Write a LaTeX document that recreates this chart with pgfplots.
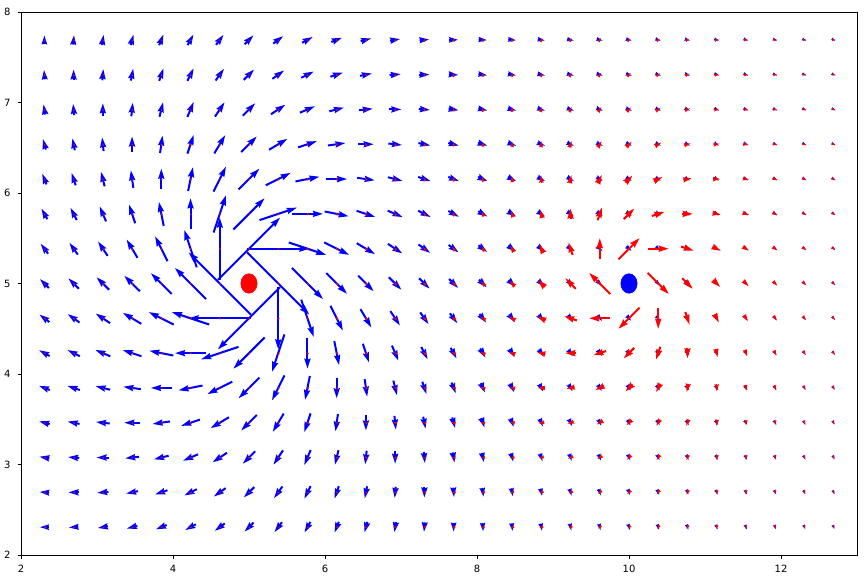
\documentclass[border=0pt]{standalone}
\usepackage{pgfplots}
\pgfplotsset{compat=1.18}
\usepackage{pgfplotstable}
\usetikzlibrary{arrows.meta}
\usepackage{fontspec}
\setmainfont{DejaVu Sans}

% a, b: grid offsets (step 15/39) from the source; U, V: arrow components (screen units)
\pgfplotstableread{
a b U V
-20 7 -0.029 0.060
-19 7 -0.029 0.063
-18 7 -0.029 0.067
-17 7 -0.030 0.071
-16 7 -0.030 0.075
-15 7 -0.029 0.080
-14 7 -0.029 0.086
-13 7 -0.028 0.092
-12 7 -0.026 0.098
-11 7 -0.024 0.106
-10 7 -0.020 0.114
-9 7 -0.015 0.123
-8 7 -0.009 0.133
-7 7 0 0.143
-6 7 0.012 0.153
-5 7 0.027 0.162
-4 7 0.046 0.169
-3 7 0.069 0.172
-2 7 0.094 0.170
-1 7 0.120 0.160
0 7 0.143 0.143
1 7 0.160 0.120
2 7 0.170 0.094
3 7 0.172 0.069
4 7 0.169 0.046
5 7 0.162 0.027
6 7 0.153 0.012
7 7 0.143 0
8 7 0.133 -0.009
9 7 0.123 -0.015
10 7 0.114 -0.020
11 7 0.106 -0.024
12 7 0.098 -0.026
13 7 0.092 -0.028
14 7 0.086 -0.029
15 7 0.080 -0.029
16 7 0.075 -0.030
17 7 0.071 -0.030
18 7 0.067 -0.029
19 7 0.063 -0.029
20 7 0.060 -0.029
-20 6 -0.032 0.060
-19 6 -0.033 0.063
-18 6 -0.033 0.067
-17 6 -0.034 0.071
-16 6 -0.034 0.075
-15 6 -0.034 0.080
-14 6 -0.034 0.086
-13 6 -0.034 0.093
-12 6 -0.033 0.100
-11 6 -0.032 0.108
-10 6 -0.029 0.118
-9 6 -0.026 0.128
-8 6 -0.020 0.140
-7 6 -0.012 0.153
-6 6 0 0.167
-5 6 0.016 0.180
-4 6 0.038 0.192
-3 6 0.067 0.200
-2 6 0.100 0.200
-1 6 0.135 0.189
0 6 0.167 0.167
1 6 0.189 0.135
2 6 0.200 0.100
3 6 0.200 0.067
4 6 0.192 0.038
5 6 0.180 0.016
6 6 0.167 0
7 6 0.153 -0.012
8 6 0.140 -0.020
9 6 0.128 -0.026
10 6 0.118 -0.029
11 6 0.108 -0.032
12 6 0.100 -0.033
13 6 0.093 -0.034
14 6 0.086 -0.034
15 6 0.080 -0.034
16 6 0.075 -0.034
17 6 0.071 -0.034
18 6 0.067 -0.033
19 6 0.063 -0.033
20 6 0.060 -0.032
-20 5 -0.035 0.059
-19 5 -0.036 0.062
-18 5 -0.037 0.066
-17 5 -0.038 0.070
-16 5 -0.039 0.075
-15 5 -0.040 0.080
-14 5 -0.041 0.086
-13 5 -0.041 0.093
-12 5 -0.041 0.101
-11 5 -0.041 0.110
-10 5 -0.040 0.120
-9 5 -0.038 0.132
-8 5 -0.034 0.146
-7 5 -0.027 0.162
-6 5 -0.016 0.180
-5 5 0 0.200
-4 5 0.024 0.220
-3 5 0.059 0.235
-2 5 0.103 0.241
-1 5 0.154 0.231
0 5 0.200 0.200
1 5 0.231 0.154
2 5 0.241 0.103
3 5 0.235 0.059
4 5 0.220 0.024
5 5 0.200 0
6 5 0.180 -0.016
7 5 0.162 -0.027
8 5 0.146 -0.034
9 5 0.132 -0.038
10 5 0.120 -0.040
11 5 0.110 -0.041
12 5 0.101 -0.041
13 5 0.093 -0.041
14 5 0.086 -0.041
15 5 0.080 -0.040
16 5 0.075 -0.039
17 5 0.070 -0.038
18 5 0.066 -0.037
19 5 0.062 -0.036
20 5 0.059 -0.035
-20 4 -0.038 0.058
-19 4 -0.040 0.061
-18 4 -0.041 0.065
-17 4 -0.043 0.069
-16 4 -0.044 0.074
-15 4 -0.046 0.079
-14 4 -0.047 0.085
-13 4 -0.049 0.092
-12 4 -0.050 0.100
-11 4 -0.051 0.109
-10 4 -0.052 0.121
-9 4 -0.052 0.134
-8 4 -0.050 0.150
-7 4 -0.046 0.169
-6 4 -0.038 0.192
-5 4 -0.024 0.220
-4 4 0 0.250
-3 4 0.040 0.280
-2 4 0.100 0.300
-1 4 0.176 0.294
0 4 0.250 0.250
1 4 0.294 0.176
2 4 0.300 0.100
3 4 0.280 0.040
4 4 0.250 0
5 4 0.220 -0.024
6 4 0.192 -0.038
7 4 0.169 -0.046
8 4 0.150 -0.050
9 4 0.134 -0.052
10 4 0.121 -0.052
11 4 0.109 -0.051
12 4 0.100 -0.050
13 4 0.092 -0.049
14 4 0.085 -0.047
15 4 0.079 -0.046
16 4 0.074 -0.044
17 4 0.069 -0.043
18 4 0.065 -0.041
19 4 0.061 -0.040
20 4 0.058 -0.038
-20 3 -0.042 0.056
-19 3 -0.043 0.059
-18 3 -0.045 0.063
-17 3 -0.047 0.067
-16 3 -0.049 0.072
-15 3 -0.051 0.077
-14 3 -0.054 0.083
-13 3 -0.056 0.090
-12 3 -0.059 0.098
-11 3 -0.062 0.108
-10 3 -0.064 0.119
-9 3 -0.067 0.133
-8 3 -0.068 0.151
-7 3 -0.069 0.172
-6 3 -0.067 0.200
-5 3 -0.059 0.235
-4 3 -0.040 0.280
-3 3 0 0.333
-2 3 0.077 0.385
-1 3 0.200 0.400
0 3 0.333 0.333
1 3 0.400 0.200
2 3 0.385 0.077
3 3 0.333 0
4 3 0.280 -0.040
5 3 0.235 -0.059
6 3 0.200 -0.067
7 3 0.172 -0.069
8 3 0.151 -0.068
9 3 0.133 -0.067
10 3 0.119 -0.064
11 3 0.108 -0.062
12 3 0.098 -0.059
13 3 0.090 -0.056
14 3 0.083 -0.054
15 3 0.077 -0.051
16 3 0.072 -0.049
17 3 0.067 -0.047
18 3 0.063 -0.045
19 3 0.059 -0.043
20 3 0.056 -0.042
-20 2 -0.045 0.054
-19 2 -0.047 0.058
-18 2 -0.049 0.061
-17 2 -0.051 0.065
-16 2 -0.054 0.069
-15 2 -0.057 0.074
-14 2 -0.060 0.080
-13 2 -0.064 0.087
-12 2 -0.068 0.095
-11 2 -0.072 0.104
-10 2 -0.077 0.115
-9 2 -0.082 0.129
-8 2 -0.088 0.147
-7 2 -0.094 0.170
-6 2 -0.100 0.200
-5 2 -0.103 0.241
-4 2 -0.100 0.300
-3 2 -0.077 0.385
-2 2 0 0.500
-1 2 0.200 0.600
0 2 0.500 0.500
1 2 0.600 0.200
2 2 0.500 0
3 2 0.385 -0.077
4 2 0.300 -0.100
5 2 0.241 -0.103
6 2 0.200 -0.100
7 2 0.170 -0.094
8 2 0.147 -0.088
9 2 0.129 -0.082
10 2 0.115 -0.077
11 2 0.104 -0.072
12 2 0.095 -0.068
13 2 0.087 -0.064
14 2 0.080 -0.060
15 2 0.074 -0.057
16 2 0.069 -0.054
17 2 0.065 -0.051
18 2 0.061 -0.049
19 2 0.058 -0.047
20 2 0.054 -0.045
-20 1 -0.047 0.052
-19 1 -0.050 0.055
-18 1 -0.052 0.058
-17 1 -0.055 0.062
-16 1 -0.058 0.066
-15 1 -0.062 0.071
-14 1 -0.066 0.076
-13 1 -0.071 0.082
-12 1 -0.076 0.090
-11 1 -0.082 0.098
-10 1 -0.089 0.109
-9 1 -0.098 0.122
-8 1 -0.108 0.138
-7 1 -0.120 0.160
-6 1 -0.135 0.189
-5 1 -0.154 0.231
-4 1 -0.176 0.294
-3 1 -0.200 0.400
-2 1 -0.200 0.600
-1 1 0 1
0 1 1 1
1 1 1 0
2 1 0.600 -0.200
3 1 0.400 -0.200
4 1 0.294 -0.176
5 1 0.231 -0.154
6 1 0.189 -0.135
7 1 0.160 -0.120
8 1 0.138 -0.108
9 1 0.122 -0.098
10 1 0.109 -0.089
11 1 0.098 -0.082
12 1 0.090 -0.076
13 1 0.082 -0.071
14 1 0.076 -0.066
15 1 0.071 -0.062
16 1 0.066 -0.058
17 1 0.062 -0.055
18 1 0.058 -0.052
19 1 0.055 -0.050
20 1 0.052 -0.047
-20 0 -0.050 0.050
-19 0 -0.053 0.053
-18 0 -0.056 0.056
-17 0 -0.059 0.059
-16 0 -0.062 0.062
-15 0 -0.067 0.067
-14 0 -0.071 0.071
-13 0 -0.077 0.077
-12 0 -0.083 0.083
-11 0 -0.091 0.091
-10 0 -0.100 0.100
-9 0 -0.111 0.111
-8 0 -0.125 0.125
-7 0 -0.143 0.143
-6 0 -0.167 0.167
-5 0 -0.200 0.200
-4 0 -0.250 0.250
-3 0 -0.333 0.333
-2 0 -0.500 0.500
-1 0 -1 1
1 0 1 -1
2 0 0.500 -0.500
3 0 0.333 -0.333
4 0 0.250 -0.250
5 0 0.200 -0.200
6 0 0.167 -0.167
7 0 0.143 -0.143
8 0 0.125 -0.125
9 0 0.111 -0.111
10 0 0.100 -0.100
11 0 0.091 -0.091
12 0 0.083 -0.083
13 0 0.077 -0.077
14 0 0.071 -0.071
15 0 0.067 -0.067
16 0 0.062 -0.062
17 0 0.059 -0.059
18 0 0.056 -0.056
19 0 0.053 -0.053
20 0 0.050 -0.050
-20 -1 -0.052 0.047
-19 -1 -0.055 0.050
-18 -1 -0.058 0.052
-17 -1 -0.062 0.055
-16 -1 -0.066 0.058
-15 -1 -0.071 0.062
-14 -1 -0.076 0.066
-13 -1 -0.082 0.071
-12 -1 -0.090 0.076
-11 -1 -0.098 0.082
-10 -1 -0.109 0.089
-9 -1 -0.122 0.098
-8 -1 -0.138 0.108
-7 -1 -0.160 0.120
-6 -1 -0.189 0.135
-5 -1 -0.231 0.154
-4 -1 -0.294 0.176
-3 -1 -0.400 0.200
-2 -1 -0.600 0.200
-1 -1 -1 0
0 -1 -1 -1
1 -1 0 -1
2 -1 0.200 -0.600
3 -1 0.200 -0.400
4 -1 0.176 -0.294
5 -1 0.154 -0.231
6 -1 0.135 -0.189
7 -1 0.120 -0.160
8 -1 0.108 -0.138
9 -1 0.098 -0.122
10 -1 0.089 -0.109
11 -1 0.082 -0.098
12 -1 0.076 -0.090
13 -1 0.071 -0.082
14 -1 0.066 -0.076
15 -1 0.062 -0.071
16 -1 0.058 -0.066
17 -1 0.055 -0.062
18 -1 0.052 -0.058
19 -1 0.050 -0.055
20 -1 0.047 -0.052
-20 -2 -0.054 0.045
-19 -2 -0.058 0.047
-18 -2 -0.061 0.049
-17 -2 -0.065 0.051
-16 -2 -0.069 0.054
-15 -2 -0.074 0.057
-14 -2 -0.080 0.060
-13 -2 -0.087 0.064
-12 -2 -0.095 0.068
-11 -2 -0.104 0.072
-10 -2 -0.115 0.077
-9 -2 -0.129 0.082
-8 -2 -0.147 0.088
-7 -2 -0.170 0.094
-6 -2 -0.200 0.100
-5 -2 -0.241 0.103
-4 -2 -0.300 0.100
-3 -2 -0.385 0.077
-2 -2 -0.500 0
-1 -2 -0.600 -0.200
0 -2 -0.500 -0.500
1 -2 -0.200 -0.600
2 -2 0 -0.500
3 -2 0.077 -0.385
4 -2 0.100 -0.300
5 -2 0.103 -0.241
6 -2 0.100 -0.200
7 -2 0.094 -0.170
8 -2 0.088 -0.147
9 -2 0.082 -0.129
10 -2 0.077 -0.115
11 -2 0.072 -0.104
12 -2 0.068 -0.095
13 -2 0.064 -0.087
14 -2 0.060 -0.080
15 -2 0.057 -0.074
16 -2 0.054 -0.069
17 -2 0.051 -0.065
18 -2 0.049 -0.061
19 -2 0.047 -0.058
20 -2 0.045 -0.054
-20 -3 -0.056 0.042
-19 -3 -0.059 0.043
-18 -3 -0.063 0.045
-17 -3 -0.067 0.047
-16 -3 -0.072 0.049
-15 -3 -0.077 0.051
-14 -3 -0.083 0.054
-13 -3 -0.090 0.056
-12 -3 -0.098 0.059
-11 -3 -0.108 0.062
-10 -3 -0.119 0.064
-9 -3 -0.133 0.067
-8 -3 -0.151 0.068
-7 -3 -0.172 0.069
-6 -3 -0.200 0.067
-5 -3 -0.235 0.059
-4 -3 -0.280 0.040
-3 -3 -0.333 0
-2 -3 -0.385 -0.077
-1 -3 -0.400 -0.200
0 -3 -0.333 -0.333
1 -3 -0.200 -0.400
2 -3 -0.077 -0.385
3 -3 0 -0.333
4 -3 0.040 -0.280
5 -3 0.059 -0.235
6 -3 0.067 -0.200
7 -3 0.069 -0.172
8 -3 0.068 -0.151
9 -3 0.067 -0.133
10 -3 0.064 -0.119
11 -3 0.062 -0.108
12 -3 0.059 -0.098
13 -3 0.056 -0.090
14 -3 0.054 -0.083
15 -3 0.051 -0.077
16 -3 0.049 -0.072
17 -3 0.047 -0.067
18 -3 0.045 -0.063
19 -3 0.043 -0.059
20 -3 0.042 -0.056
-20 -4 -0.058 0.038
-19 -4 -0.061 0.040
-18 -4 -0.065 0.041
-17 -4 -0.069 0.043
-16 -4 -0.074 0.044
-15 -4 -0.079 0.046
-14 -4 -0.085 0.047
-13 -4 -0.092 0.049
-12 -4 -0.100 0.050
-11 -4 -0.109 0.051
-10 -4 -0.121 0.052
-9 -4 -0.134 0.052
-8 -4 -0.150 0.050
-7 -4 -0.169 0.046
-6 -4 -0.192 0.038
-5 -4 -0.220 0.024
-4 -4 -0.250 0
-3 -4 -0.280 -0.040
-2 -4 -0.300 -0.100
-1 -4 -0.294 -0.176
0 -4 -0.250 -0.250
1 -4 -0.176 -0.294
2 -4 -0.100 -0.300
3 -4 -0.040 -0.280
4 -4 0 -0.250
5 -4 0.024 -0.220
6 -4 0.038 -0.192
7 -4 0.046 -0.169
8 -4 0.050 -0.150
9 -4 0.052 -0.134
10 -4 0.052 -0.121
11 -4 0.051 -0.109
12 -4 0.050 -0.100
13 -4 0.049 -0.092
14 -4 0.047 -0.085
15 -4 0.046 -0.079
16 -4 0.044 -0.074
17 -4 0.043 -0.069
18 -4 0.041 -0.065
19 -4 0.040 -0.061
20 -4 0.038 -0.058
-20 -5 -0.059 0.035
-19 -5 -0.062 0.036
-18 -5 -0.066 0.037
-17 -5 -0.070 0.038
-16 -5 -0.075 0.039
-15 -5 -0.080 0.040
-14 -5 -0.086 0.041
-13 -5 -0.093 0.041
-12 -5 -0.101 0.041
-11 -5 -0.110 0.041
-10 -5 -0.120 0.040
-9 -5 -0.132 0.038
-8 -5 -0.146 0.034
-7 -5 -0.162 0.027
-6 -5 -0.180 0.016
-5 -5 -0.200 0
-4 -5 -0.220 -0.024
-3 -5 -0.235 -0.059
-2 -5 -0.241 -0.103
-1 -5 -0.231 -0.154
0 -5 -0.200 -0.200
1 -5 -0.154 -0.231
2 -5 -0.103 -0.241
3 -5 -0.059 -0.235
4 -5 -0.024 -0.220
5 -5 0 -0.200
6 -5 0.016 -0.180
7 -5 0.027 -0.162
8 -5 0.034 -0.146
9 -5 0.038 -0.132
10 -5 0.040 -0.120
11 -5 0.041 -0.110
12 -5 0.041 -0.101
13 -5 0.041 -0.093
14 -5 0.041 -0.086
15 -5 0.040 -0.080
16 -5 0.039 -0.075
17 -5 0.038 -0.070
18 -5 0.037 -0.066
19 -5 0.036 -0.062
20 -5 0.035 -0.059
-20 -6 -0.060 0.032
-19 -6 -0.063 0.033
-18 -6 -0.067 0.033
-17 -6 -0.071 0.034
-16 -6 -0.075 0.034
-15 -6 -0.080 0.034
-14 -6 -0.086 0.034
-13 -6 -0.093 0.034
-12 -6 -0.100 0.033
-11 -6 -0.108 0.032
-10 -6 -0.118 0.029
-9 -6 -0.128 0.026
-8 -6 -0.140 0.020
-7 -6 -0.153 0.012
-6 -6 -0.167 0
-5 -6 -0.180 -0.016
-4 -6 -0.192 -0.038
-3 -6 -0.200 -0.067
-2 -6 -0.200 -0.100
-1 -6 -0.189 -0.135
0 -6 -0.167 -0.167
1 -6 -0.135 -0.189
2 -6 -0.100 -0.200
3 -6 -0.067 -0.200
4 -6 -0.038 -0.192
5 -6 -0.016 -0.180
6 -6 0 -0.167
7 -6 0.012 -0.153
8 -6 0.020 -0.140
9 -6 0.026 -0.128
10 -6 0.029 -0.118
11 -6 0.032 -0.108
12 -6 0.033 -0.100
13 -6 0.034 -0.093
14 -6 0.034 -0.086
15 -6 0.034 -0.080
16 -6 0.034 -0.075
17 -6 0.034 -0.071
18 -6 0.033 -0.067
19 -6 0.033 -0.063
20 -6 0.032 -0.060
-20 -7 -0.060 0.029
-19 -7 -0.063 0.029
-18 -7 -0.067 0.029
-17 -7 -0.071 0.030
-16 -7 -0.075 0.030
-15 -7 -0.080 0.029
-14 -7 -0.086 0.029
-13 -7 -0.092 0.028
-12 -7 -0.098 0.026
-11 -7 -0.106 0.024
-10 -7 -0.114 0.020
-9 -7 -0.123 0.015
-8 -7 -0.133 0.009
-7 -7 -0.143 0
-6 -7 -0.153 -0.012
-5 -7 -0.162 -0.027
-4 -7 -0.169 -0.046
-3 -7 -0.172 -0.069
-2 -7 -0.170 -0.094
-1 -7 -0.160 -0.120
0 -7 -0.143 -0.143
1 -7 -0.120 -0.160
2 -7 -0.094 -0.170
3 -7 -0.069 -0.172
4 -7 -0.046 -0.169
5 -7 -0.027 -0.162
6 -7 -0.012 -0.153
7 -7 0 -0.143
8 -7 0.009 -0.133
9 -7 0.015 -0.123
10 -7 0.020 -0.114
11 -7 0.024 -0.106
12 -7 0.026 -0.098
13 -7 0.028 -0.092
14 -7 0.029 -0.086
15 -7 0.029 -0.080
16 -7 0.030 -0.075
17 -7 0.030 -0.071
18 -7 0.029 -0.067
19 -7 0.029 -0.063
20 -7 0.029 -0.060
}\field

\tikzset{qarrow/.style={-{Stealth[length=0pt 5, width=0pt 3, inset=0pt 0.5]}}}

\begin{document}
\begin{tikzpicture}
\begin{axis}[
  scale only axis,
  width=836pt, height=543pt,
  xmin=2, xmax=13, ymin=2, ymax=8,
  xtick={2,4,6,8,10,12}, ytick={2,3,4,5,6,7,8},
  tick pos=left,
  tick align=outside,
  major tick length=3.5pt,
  every tick/.style={black, line width=0.8pt},
  axis line style={line width=0.8pt},
  tick label style={font=\fontsize{10}{12}\selectfont},
  xticklabel style={yshift=-3.5pt},
  yticklabel style={xshift=-3.5pt},
  /pgf/number format/assume math mode=true,
  point meta min=0, point meta max=10,
  clip=true,
]
% blue field: source at (5,5)
\addplot[blue, qarrow,
  restrict expr to domain={\thisrow{a}}{-7:20},
  point meta={min(max(62.3*sqrt(\thisrow{U}*\thisrow{U}+\thisrow{V}*\thisrow{V}),2.2),10)},
  quiver={u=0.82*\thisrow{U}, v=0.688*\thisrow{V},
    every arrow/.append style={line width=0.002pt*\pgfplotspointmetatransformed}},
] table[x expr={5+0.384615*\thisrow{a}-0.41*\thisrow{U}},
        y expr={5+0.384615*\thisrow{b}-0.344*\thisrow{V}}] {\field};
% red field: source at (10,5)
\addplot[red, qarrow,
  restrict expr to domain={\thisrow{a}}{-20:7},
  point meta={min(max(21.1*sqrt(\thisrow{U}*\thisrow{U}+\thisrow{V}*\thisrow{V}),2.2),10)},
  quiver={u=0.278*\thisrow{U}, v=0.233*\thisrow{V},
    every arrow/.append style={line width=0.002pt*\pgfplotspointmetatransformed}},
] table[x expr={10+0.384615*\thisrow{a}-0.139*\thisrow{U}},
        y expr={5+0.384615*\thisrow{b}-0.1165*\thisrow{V}}] {\field};
\addplot[only marks, mark=*, red, mark size=9.8pt, mark options={xscale=0.84}] coordinates {(5,5)};
\addplot[only marks, mark=*, blue, mark size=9.8pt, mark options={xscale=0.84}] coordinates {(10,5)};
\coordinate (SW) at (rel axis cs:0,0);
\coordinate (NE) at (rel axis cs:1,1);
\end{axis}
\pgfresetboundingbox
\path ([shift={(-21pt,-23pt)}]SW) rectangle ([shift={(7pt,12pt)}]NE);
\end{tikzpicture}
\end{document}
